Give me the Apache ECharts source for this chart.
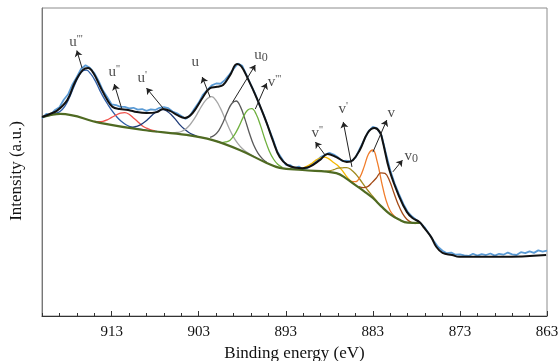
<!DOCTYPE html>
<html>
<head>
<meta charset="utf-8">
<script src="https://cdn.jsdelivr.net/npm/echarts@6/dist/echarts.min.js"></script>
<style>
  html, body { margin: 0; padding: 0; background: #fff; }
  #chart { width: 558px; height: 361px; }
</style>
</head>
<body>
<div id="chart"></div>
<script>
// raw spectrum, 921 -> 863 eV in 0.5 eV steps
const rawStart = 921
const rawStep = 0.5
const rawCounts = [
  64.2, 65.6, 65.3, 66.9, 67.8, 70.2, 72.0, 75.2, 77.6, 80.3,
  81.4, 80.6, 78.9, 76.3, 73.2, 71.0, 68.7, 68.5, 67.9, 67.9,
  67.4, 67.6, 67.0, 67.2, 66.6, 67.1, 66.9, 67.6, 67.8, 67.5,
  66.4, 65.8, 64.9, 64.0, 65.0, 67.3, 69.3, 71.9, 73.4, 74.9,
  75.5, 75.4, 76.6, 78.3, 80.2, 82.0, 81.2, 78.1, 75.0, 72.0,
  68.4, 65.1, 61.2, 57.6, 53.5, 51.3, 49.1, 49.0, 48.0, 48.5,
  47.6, 48.0, 49.3, 50.3, 51.6, 52.3, 53.0, 52.4, 51.5, 50.3,
  50.4, 50.2, 51.4, 54.3, 57.2, 60.0, 61.4, 60.9, 58.6, 52.8,
  47.3, 43.0, 39.6, 36.4, 33.8, 32.3, 31.2, 30.1, 28.6, 26.5,
  24.3, 22.4, 21.2, 20.4, 20.6, 19.9, 20.0, 19.7, 19.5, 20.2,
  19.6, 20.1, 19.8, 20.3, 19.6, 20.2, 19.9, 20.6, 20.0, 19.8,
  20.7, 20.4, 21.0, 20.5, 21.3, 20.9, 21.2
]

// fitted envelope [eV, intensity]
const fitEnvelope = [
  [921.0, 64.6], [920.1, 65.6], [919.3, 66.6], [918.1, 70.1], [917.2, 76.0],
  [916.3, 79.9], [915.7, 80.5], [915.1, 78.9], [914.3, 74.4], [913.5, 70.1],
  [912.9, 67.9], [912.1, 67.2], [911.1, 66.9], [910.1, 66.2], [909.0, 65.9],
  [907.8, 66.2], [907.1, 67.2], [906.3, 66.6], [905.5, 65.3], [904.6, 64.3],
  [903.7, 65.9], [902.5, 71.1], [901.7, 74.0], [900.9, 74.4], [900.2, 75.0],
  [899.4, 78.2], [898.6, 81.8], [898.1, 81.0], [897.4, 77.3], [896.3, 70.5],
  [895.2, 62.7], [894.5, 57.1], [893.7, 51.6], [892.8, 49.0], [891.8, 48.1],
  [891.1, 48.0], [890.3, 48.4], [889.1, 50.6], [888.2, 52.6], [887.2, 51.6],
  [886.0, 50.0], [885.3, 50.6], [884.5, 53.9], [883.6, 59.4], [882.8, 61.0],
  [882.2, 59.7], [881.9, 57.1], [881.1, 47.4], [879.95, 38.6], [879.1, 33.8],
  [878.45, 31.8], [877.65, 30.5], [877.1, 28.6], [876.3, 25.6], [875.7, 22.4],
  [875.0, 20.5], [873.9, 19.8], [873.1, 19.2], [868.1, 19.2], [863.1, 19.8]
]

// Shirley-type background
const background = [
  [920.9, 64.6], [918.9, 65.6], [914.35, 62.7], [909.4, 60.4], [904.4, 58.8],
  [901.4, 57.1], [898.3, 53.9], [895.2, 49.7], [893.7, 48.1], [891.1, 47.4],
  [887.2, 46.4], [886.0, 44.5], [885.0, 42.5], [884.0, 40.5], [883.0, 38.3],
  [882.0, 35.5], [881.0, 33.0], [880.0, 31.3], [879.0, 30.3], [877.6, 30.2]
]

// component peaks (each sits on the background)
const peakU3 = [
  [920.9, 64.6], [920.0, 65.2], [919.4, 65.8], [918.9, 66.5], [918.4, 68.0],
  [917.9, 70.6], [917.4, 74.0], [916.9, 77.2], [916.4, 79.4], [915.9, 79.8],
  [915.4, 78.6], [914.9, 76.4], [914.4, 73.5], [913.9, 70.8], [913.4, 68.5],
  [912.9, 66.4], [912.4, 64.6], [911.9, 63.2], [911.3, 62.0], [910.6, 61.2],
  [909.8, 60.7], [908.8, 60.2], [907.8, 59.9]
]
const peakU2 = [
  [915.0, 63.2], [914.5, 63.1], [914.0, 63.2], [913.5, 63.7], [913.0, 64.5],
  [912.5, 65.2], [912.0, 65.9], [911.5, 66.0], [911.0, 65.5], [910.5, 64.3],
  [910.0, 63.1], [909.5, 61.8], [909.0, 61.0], [908.5, 60.4], [908.0, 60.1]
]
const peakU1 = [
  [911.1, 61.3], [910.6, 61.3], [910.1, 61.6], [909.6, 62.2], [909.1, 63.2],
  [908.6, 64.5], [908.1, 65.8], [907.6, 66.7], [907.1, 67.0], [906.6, 66.4],
  [906.1, 65.2], [905.6, 63.6], [905.1, 61.9], [904.6, 60.6], [904.1, 59.5],
  [903.6, 58.8], [903.1, 58.2]
]
const peakU = [
  [906.0, 59.45], [905.5, 59.6], [905.0, 59.9], [904.5, 60.7], [904.0, 62.1],
  [903.5, 64.05], [903.0, 66.5], [902.5, 68.9], [902.0, 70.6], [901.5, 71.2],
  [901.0, 69.9], [900.5, 67.4], [900.0, 64.2], [899.5, 60.85], [899.0, 58.1],
  [898.5, 56.0], [898.0, 54.4], [897.5, 53.2], [896.5, 51.5]
]
const peakU0 = [
  [901.7, 58.0], [901.2, 58.7], [900.7, 60.2], [900.2, 62.9], [899.7, 66.3],
  [899.2, 69.0], [898.7, 69.8], [898.2, 67.9], [897.7, 64.0], [897.2, 59.5],
  [896.7, 55.6], [896.2, 52.9], [895.7, 51.1], [895.2, 49.9]
]
const peakV3 = [
  [900.9, 56.7], [900.4, 56.3], [899.9, 56.5], [899.4, 57.1], [898.9, 58.8],
  [898.4, 61.4], [897.9, 64.5], [897.4, 66.8], [896.9, 67.3], [896.4, 65.5],
  [895.9, 61.8], [895.4, 57.4], [894.9, 53.6], [894.4, 50.9], [893.9, 49.2],
  [893.4, 48.3]
]
const peakV2 = [
  [891.6, 47.8], [891.1, 48.0], [890.6, 48.6], [890.1, 49.4], [889.6, 50.5],
  [889.1, 51.3], [888.6, 51.6], [888.1, 51.1], [887.6, 50.0], [887.1, 49.0],
  [886.6, 47.5], [886.1, 45.6], [885.6, 44.0], [885.1, 42.8]
]
const peakV1 = [
  [888.5, 46.95], [888.0, 47.1], [887.5, 47.5], [887.0, 48.0], [886.5, 48.1],
  [886.0, 48.2], [885.5, 47.5], [885.0, 46.2], [884.5, 44.4], [884.0, 42.4],
  [883.5, 40.5], [883.0, 38.8], [882.5, 37.1]
]
const peakV = [
  [885.5, 43.7], [885.0, 43.6], [884.5, 45.0], [884.0, 48.5], [883.5, 52.6],
  [883.0, 53.9], [882.5, 50.1], [882.0, 43.5], [881.5, 37.7], [881.0, 34.1],
  [880.5, 32.3], [880.0, 31.3]
]
const peakV0 = [
  [884.6, 42.0], [884.1, 41.7], [883.6, 42.0], [883.1, 43.3], [882.6, 44.8],
  [882.1, 46.5], [881.6, 46.3], [881.1, 44.0], [880.6, 40.1], [880.1, 36.3],
  [879.6, 33.3], [879.1, 31.4], [878.6, 30.4], [878.1, 30.0]
]

const peakList = [
  { name: "u'''", data: peakU3, color: '#2f5fa8' },
  { name: "u''", data: peakU2, color: '#f0504a' },
  { name: "u'", data: peakU1, color: '#1f3b78' },
  { name: 'u', data: peakU, color: '#a6a6a6' },
  { name: 'u0', data: peakU0, color: '#5a5a5a' },
  { name: "v'''", data: peakV3, color: '#6fb03e' },
  { name: "v''", data: peakV2, color: '#f5b800' },
  { name: "v'", data: peakV1, color: '#a08a1e' },
  { name: 'v', data: peakV, color: '#f07c2a' },
  { name: 'v0', data: peakV0, color: '#a34a16' }
]

// peak labels: [eV, intensity, base, sup, sub]
const peakNotes = [
  [917.1, 89.0, 'u', "'''", ''],
  [912.7, 79.2, 'u', "''", ''],
  [909.5, 77.3, 'u', "'", ''],
  [903.4, 82.5, 'u', '', ''],
  [895.85, 84.7, 'u', '', '0'],
  [894.3, 75.8, 'v', "'''", ''],
  [889.4, 59.4, 'v', "''", ''],
  [886.4, 67.2, 'v', "'", ''],
  [880.9, 65.9, 'v', '', ''],
  [878.6, 51.9, 'v', '', '0']
]

// arrows from peak to label: [fromE, fromI, toE, toI]
const arrowLines = [
  [916.4, 80.5, 917.0, 86.2],
  [911.8, 66.9, 912.7, 75.3],
  [907.1, 67.5, 909.0, 74.0],
  [901.7, 71.1, 902.6, 77.6],
  [899.1, 69.5, 896.5, 81.5],
  [896.5, 67.2, 895.2, 75.6],
  [888.5, 52.3, 889.6, 56.5],
  [885.4, 48.4, 886.4, 63.0],
  [883.0, 53.2, 881.4, 63.6],
  [880.7, 46.8, 879.6, 50.6]
]

const majorTicks = [913, 903, 893, 883, 873, 863]

const serif = "'Liberation Serif', 'Times New Roman', serif"

const rawData = rawCounts.map((v, i) => [rawStart - i * rawStep, v])

const chart = echarts.init(document.getElementById('chart'))

const series = []

series.push({
  name: 'raw',
  type: 'line',
  data: rawData,
  showSymbol: false,
  smooth: false,
  z: 1,
  lineStyle: { color: '#5b9bd5', width: 1.8 }
})

peakList.forEach((p) => {
  series.push({
    name: p.name,
    type: 'line',
    data: p.data,
    showSymbol: false,
    smooth: 0.4,
    z: 2,
    lineStyle: { color: p.color, width: 1.3 }
  })
})

series.push({
  name: 'background',
  type: 'line',
  data: background,
  showSymbol: false,
  smooth: 0.4,
  z: 3,
  lineStyle: { color: '#4f6a22', width: 2.2 }
})

series.push({
  name: 'fit',
  type: 'line',
  data: fitEnvelope,
  showSymbol: false,
  smooth: 0.4,
  z: 4,
  lineStyle: { color: '#111', width: 2 }
})

series.push({
  name: 'arrows',
  type: 'lines',
  coordinateSystem: 'cartesian2d',
  z: 5,
  symbol: ['none', 'arrow'],
  symbolSize: 6,
  lineStyle: { color: '#222', width: 1, opacity: 1 },
  data: arrowLines.map((a) => ({ coords: [[a[0], a[1]], [a[2], a[3]]] }))
})

series.push({
  name: 'notes',
  type: 'scatter',
  symbolSize: 0,
  z: 6,
  data: peakNotes.map((n) => ({
    value: [n[0], n[1]],
    label: {
      show: true,
      position: 'inside',
      formatter: '{b|' + n[2] + '}' + (n[3] ? '{p|' + n[3] + '}' : '') + (n[4] ? '{s|' + n[4] + '}' : ''),
      rich: {
        b: { fontFamily: serif, fontSize: 15, color: '#1a1a1a', lineHeight: 17 },
        p: { fontFamily: serif, fontSize: 11, color: '#1a1a1a', lineHeight: 11, verticalAlign: 'top' },
        s: { fontFamily: serif, fontSize: 12, color: '#1a1a1a', lineHeight: 12, verticalAlign: 'bottom' }
      }
    }
  }))
})

const option = {
  animation: false,
  backgroundColor: '#fff',
  grid: {
    left: 42,
    right: 11,
    top: 8,
    bottom: 45,
    containLabel: false,
    outerBoundsMode: 'none',
    show: true,
    borderColor: '#8c8c8c',
    borderWidth: 1
  },
  xAxis: [
    {
      type: 'value',
      inverse: true,
      min: 863,
      max: 921,
      interval: 10,
      name: 'Binding energy (eV)',
      nameLocation: 'middle',
      nameGap: 24,
      nameTextStyle: { fontFamily: serif, fontSize: 17, color: '#111' },
      axisLine: { show: true, lineStyle: { color: '#333', width: 1 } },
      axisTick: { show: true, inside: true, length: 5, lineStyle: { color: '#333' } },
      axisLabel: {
        margin: 9,
        fontFamily: serif,
        fontSize: 15,
        color: '#111',
        showMaxLabel: false,
        formatter: (v) => (majorTicks.includes(v) ? String(v) : '')
      },
      splitLine: { show: false }
    },
    {
      type: 'value',
      inverse: true,
      min: 863,
      max: 921,
      interval: 2,
      position: 'bottom',
      axisLine: { show: false },
      axisTick: { show: true, inside: true, length: 3, lineStyle: { color: '#333' } },
      axisLabel: { show: false },
      splitLine: { show: false }
    }
  ],
  yAxis: {
    type: 'value',
    min: 0,
    max: 100,
    name: 'Intensity (a.u.)',
    nameLocation: 'middle',
    nameGap: 17,
    nameTextStyle: { fontFamily: serif, fontSize: 17, color: '#111', padding: [0, 18, 0, 0] },
    axisLine: { show: true, lineStyle: { color: '#777' } },
    axisTick: { show: false },
    axisLabel: { show: false },
    splitLine: { show: false }
  },
  series
}

chart.setOption(option)
</script>
</body>
</html>
